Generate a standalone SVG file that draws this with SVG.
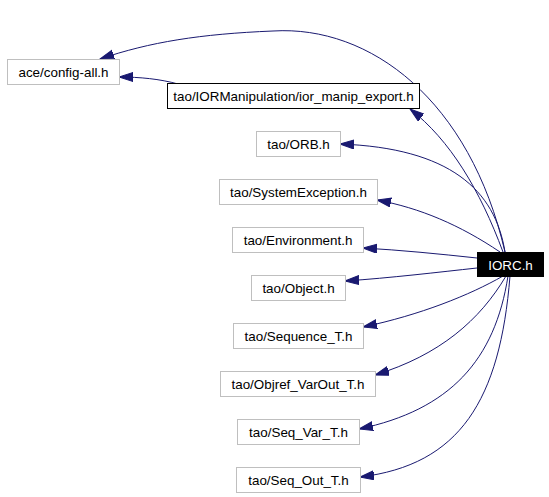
<svg xmlns="http://www.w3.org/2000/svg" width="549" height="497" viewBox="0 0 549 497">
<style>
.n rect{fill:#fff;stroke:#bfbfbf;stroke-width:1}
.n text{font-family:"Liberation Sans",Arial,sans-serif;font-size:13.4px;fill:#000;text-anchor:middle}
#ior rect{stroke:#000}
#iorc rect{fill:#000;stroke:#000}
#iorc text{fill:#fff}
.e path{fill:none;stroke:#191970;stroke-width:1;marker-end:url(#ah)}
</style>
<defs>
<marker id="ah" markerUnits="userSpaceOnUse" markerWidth="15" markerHeight="10" refX="14" refY="4.5" orient="auto">
<path d="M0,0 L14,4.5 L0,9 z" fill="#191970" stroke="#191970"/>
</marker>
</defs>
<rect width="549" height="497" fill="#fff"/>
<g class="e" id="edges">
<path d="M505,252 C470,100 370,25 273,31 C200,34 150,42 100,59"/>
<path d="M503,252 C480,190 450,140 410,109"/>
<path d="M178,84 C160,79 140,77 119,77"/>
<path d="M505,252 C495,190 450,148 340,144"/>
<path d="M500,252 C460,225 420,208 377,200"/>
<path d="M477,258 C440,254 400,250 363,248"/>
<path d="M477,268 C440,272 390,278 345,281"/>
<path d="M503,276 C470,295 420,315 363,327"/>
<path d="M506,276 C480,320 440,355 375,375"/>
<path d="M508,276 C495,360 450,410 359,429"/>
<path d="M510,276 C500,400 460,465 360,477"/>
</g>
<g class="n" id="config"><rect x="7.5" y="59.5" width="112" height="25"/><text x="63.5" y="77">ace/config-all.h</text></g>
<g class="n" id="ior"><rect x="167.5" y="83.5" width="252" height="25"/><text x="293.5" y="101">tao/IORManipulation/ior_manip_export.h</text></g>
<g class="n" id="orb"><rect x="256.5" y="131.5" width="84" height="25"/><text x="298.5" y="149">tao/ORB.h</text></g>
<g class="n" id="sysexc"><rect x="219.5" y="179.5" width="158" height="25"/><text x="298.5" y="197">tao/SystemException.h</text></g>
<g class="n" id="env"><rect x="232.5" y="227.5" width="131" height="25"/><text x="298" y="245">tao/Environment.h</text></g>
<g class="n" id="obj"><rect x="251.5" y="275.5" width="94" height="25"/><text x="298.5" y="293">tao/Object.h</text></g>
<g class="n" id="seqt"><rect x="233.5" y="323.5" width="130" height="25"/><text x="298.5" y="341">tao/Sequence_T.h</text></g>
<g class="n" id="objref"><rect x="220.5" y="371.5" width="155" height="25"/><text x="298" y="389">tao/Objref_VarOut_T.h</text></g>
<g class="n" id="seqvar"><rect x="237.5" y="419.5" width="122" height="25"/><text x="298.5" y="437">tao/Seq_Var_T.h</text></g>
<g class="n" id="seqout"><rect x="236.5" y="467.5" width="124" height="25"/><text x="298.5" y="485">tao/Seq_Out_T.h</text></g>
<g class="n" id="iorc"><rect x="477.5" y="252.5" width="66" height="24"/><text x="510.5" y="269.5">IORC.h</text></g>
</svg>
